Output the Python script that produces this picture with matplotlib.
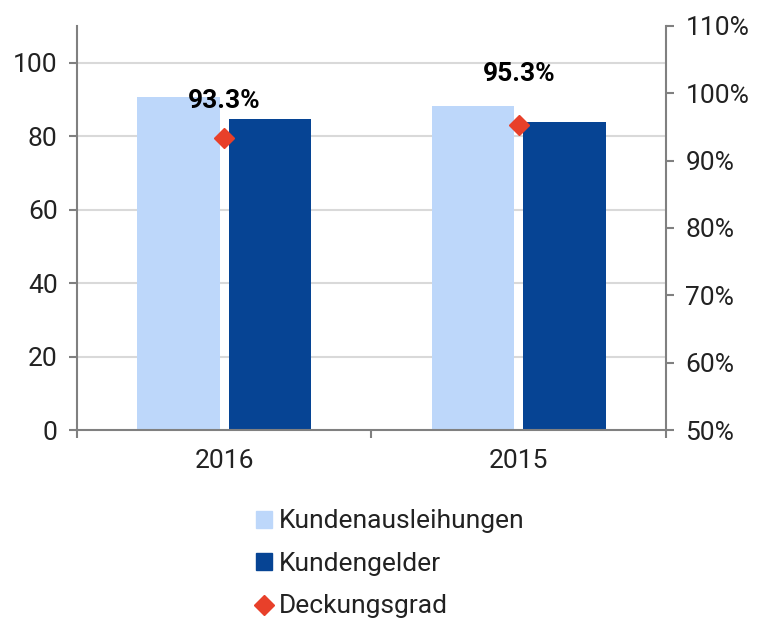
import numpy as np
import matplotlib.pyplot as plt
from matplotlib.lines import Line2D
from matplotlib.patches import Patch

plt.rcParams['font.family'] = ['Roboto', 'DejaVu Sans']

years = ["2016", "2015"]
ausleihungen = [90.6, 88.2]
gelder = [84.6, 83.8]
deckungsgrad = [93.3, 95.3]

c_light = "#BDD7FA"
c_dark = "#064494"
c_red = "#E8402A"
c_axis = "#808080"
fs = 19

fig = plt.figure(figsize=(7.64, 6.18), dpi=100)
ax = fig.add_axes([0.1008, 0.3042, 0.7709, 0.6538])

x = np.arange(len(years))
w = 0.28
ax.bar(x - 0.155, ausleihungen, w, color=c_light, zorder=2)
ax.bar(x + 0.155, gelder, w, color=c_dark, zorder=2)

ax.set_xlim(-0.5, 1.5)
ax.set_ylim(0, 110)
ax.set_yticks([0, 20, 40, 60, 80, 100])
ax.set_xticks(x)
ax.set_xticklabels(years)
ax.set_xticks([-0.5, 0.5, 1.5], minor=True)
ax.tick_params(axis='x', which='major', length=0, pad=14, labelsize=fs, labelcolor="#222222")
ax.tick_params(axis='x', which='minor', length=6, color=c_axis, width=1.5)
ax.tick_params(axis='y', length=6, color=c_axis, width=1.5, labelsize=fs, pad=8, labelcolor="#222222")
for v in [20, 40, 60, 80, 100]:
    ax.axhline(v, color="#D9D9D9", lw=1.5, zorder=1)
for s in ["top", "right"]:
    ax.spines[s].set_visible(False)
for s in ["left", "bottom"]:
    ax.spines[s].set_color(c_axis)
    ax.spines[s].set_linewidth(1.5)

ax2 = ax.twinx()
ax2.set_ylim(0.5, 1.1)
ax2.set_yticks([0.5, 0.6, 0.7, 0.8, 0.9, 1.0, 1.1])
ax2.set_yticklabels(["%d%%" % round(t * 100) for t in ax2.get_yticks()])
ax2.tick_params(axis='y', length=6, color=c_axis, width=1.5, labelsize=fs, pad=8, labelcolor="#222222")
for s in ["top", "left", "bottom"]:
    ax2.spines[s].set_visible(False)
ax2.spines["right"].set_color(c_axis)
ax2.spines["right"].set_linewidth(1.5)

vals = [d / 100 for d in deckungsgrad]
ax2.plot(x, vals, linestyle="none", marker="D", markersize=10, color=c_red, zorder=5)
label_off = [27, 37]
for i, d in enumerate(deckungsgrad):
    ax2.annotate("%.1f%%" % d, (x[i], vals[i]), xytext=(0, label_off[i]),
                 textcoords="offset points", ha="center", va="center",
                 fontsize=fs, fontweight="bold")

handles = [Patch(color=c_light), Patch(color=c_dark),
           Line2D([], [], linestyle="none", marker="D", color=c_red, markersize=10)]
leg = fig.legend(handles, ["Kundenausleihungen", "Kundengelder", "Deckungsgrad"],
                 loc="upper left", bbox_to_anchor=(0.318, 0.197), frameon=False,
                 fontsize=fs, handlelength=0.6, handleheight=0.6, handletextpad=0.25,
                 labelspacing=0.7, borderpad=0, labelcolor="#222222")

fig.savefig("out.png", dpi=100)
